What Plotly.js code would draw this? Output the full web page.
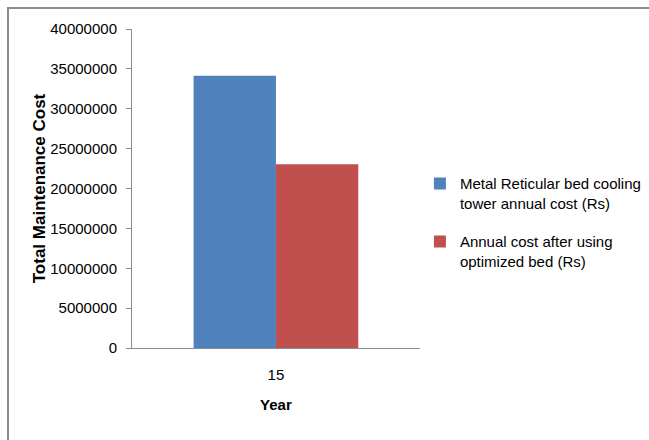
<!DOCTYPE html>
<html>
<head>
<meta charset="utf-8">
<script src="https://cdn.plot.ly/plotly-3.0.1.min.js"></script>
<style>
  html, body { margin: 0; padding: 0; background: #fff; width: 649px; height: 440px; overflow: hidden; }
  #frame { position: absolute; left: 7px; top: 7px; width: 700px; height: 500px; border-left: 2px solid #8c8c8c; border-top: 2px solid #8c8c8c; }
  #chart { position: absolute; left: 0; top: 0; width: 649px; height: 440px; }
</style>
</head>
<body>
<div id="frame"></div>
<div id="chart"></div>
<script>
const categories = ["15"];
const seriesNames = [
  "Metal Reticular bed cooling<br>tower annual cost (Rs)",
  "Annual cost after using<br>optimized bed (Rs)"
];
const metalCost = [34150000];
const optimizedCost = [23050000];
const yTicks = [0, 5000000, 10000000, 15000000, 20000000, 25000000, 30000000, 35000000, 40000000];
const yTickLabels = ["0", "5000000", "10000000", "15000000", "20000000", "25000000", "30000000", "35000000", "40000000"];

const font = "Liberation Sans, Arial, sans-serif";
const traces = [
  { type: "bar", x: categories, y: metalCost, name: seriesNames[0], legendgroup: "a", marker: { color: "#4F81BD" } },
  { type: "bar", x: categories, y: optimizedCost, name: seriesNames[1], legendgroup: "b", marker: { color: "#C0504D" } }
];

const layout = {
  width: 649, height: 440,
  paper_bgcolor: "rgba(0,0,0,0)", plot_bgcolor: "rgba(0,0,0,0)",
  margin: { l: 132, r: 227, t: 29, b: 92 },
  barmode: "group", bargap: 0.428, bargroupgap: 0,
  font: { family: font, size: 15, color: "#000" },
  xaxis: {
    type: "category", automargin: false,
    showline: true, linecolor: "#8c8c8c", linewidth: 1,
    ticks: "", showgrid: false, zeroline: false,
    tickfont: { family: font, size: 15, color: "#000" },
    ticklabelstandoff: 13,
    title: { text: "<b>Year</b>", font: { family: font, size: 15, color: "#000" }, standoff: 17 }
  },
  yaxis: {
    range: [0, 40000000], automargin: false,
    tickvals: yTicks, ticktext: yTickLabels,
    showline: true, linecolor: "#8c8c8c", linewidth: 1,
    ticks: "outside", ticklen: 5, tickcolor: "#8c8c8c",
    showgrid: false, zeroline: false,
    tickfont: { family: font, size: 15, color: "#000" },
    ticklabelstandoff: 6,
    title: { text: "<b>Total Maintenance Cost</b>", font: { family: font, size: 17, color: "#000" }, standoff: 0 }
  },
  legend: {
    xref: "container", yref: "container",
    x: 0.647, xanchor: "left", y: 0.495, yanchor: "middle",
    font: { family: font, size: 15, color: "#000" },
    bgcolor: "rgba(0,0,0,0)", tracegroupgap: 16,
    traceorder: "grouped", itemwidth: 30, valign: "top"
  },
  showlegend: true
};

Plotly.newPlot("chart", traces, layout, { displayModeBar: false, staticPlot: true });
</script>
</body>
</html>
